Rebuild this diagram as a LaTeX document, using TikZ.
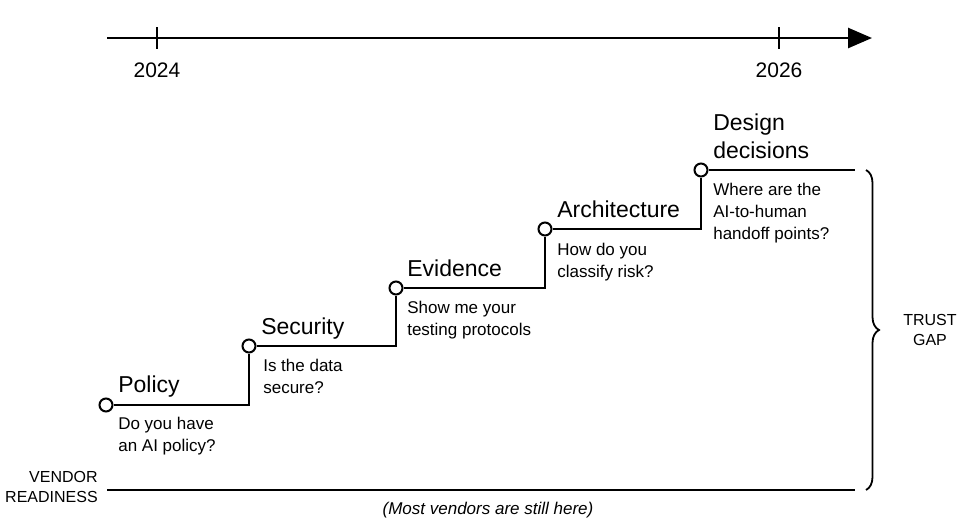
\documentclass[tikz,border=0pt]{standalone}
\usepackage{fontspec}
\setmainfont{Liberation Sans}
\usetikzlibrary{arrows.meta,decorations.pathreplacing}
\tikzset{
  milestone/.style={circle, draw, line width=2pt, fill=white, inner sep=0pt, minimum size=13pt},
  title/.style={anchor=base west, inner sep=0pt, font=\fontsize{23}{27}\selectfont},
  question/.style={anchor=north west, inner sep=0pt, align=left, font=\fontsize{17}{22}\selectfont},
  small/.style={inner sep=0pt, align=center, font=\fontsize{16}{20}\selectfont}
}
\begin{document}
\begin{tikzpicture}[x=1pt, y=-1pt, line width=2.6pt, black]
\useasboundingbox (0,0) rectangle (968,528);
% Timeline
    \coordinate (t0) at (107,38);
    \coordinate (t1) at (872,38);
    \draw[-{Triangle[length=24pt,width=20pt]}] (t0) -- (t1);
    \draw (157,27) -- (157,49);
    \draw (779,27) -- (779,49);
    \node[small, font=\fontsize{21}{24}\selectfont] (y24) at (157,70) {2024};
    \node[small, font=\fontsize{21}{24}\selectfont] (y26) at (779,70) {2026};
% Steps
    \coordinate (c1) at (249,405);
    \coordinate (c2) at (396,346);
    \coordinate (c3) at (545,288);
    \coordinate (c4) at (701,229);
    \coordinate (e5) at (855,170);
    \node[milestone] (p1) at (106,405) {};
    \node[milestone] (p2) at (249,346) {};
    \node[milestone] (p3) at (396,288) {};
    \node[milestone] (p4) at (545,229) {};
    \node[milestone] (p5) at (701,170) {};
    \draw (p1) -- (c1) -- (p2);
    \draw (p2) -- (c2) -- (p3);
    \draw (p3) -- (c3) -- (p4);
    \draw (p4) -- (c4) -- (p5);
    \draw (p5) -- (e5);
% Titles
    \node[title] (n1) at (117,392) {Policy};
    \node[title] (n2) at (260,334) {Security};
    \node[title] (n3) at (406,276) {Evidence};
    \node[title] (n4) at (556,217) {Architecture};
    \node[title] (n5a) at (712,130) {Design};
    \node[title] (n5b) at (712,158) {decisions};
% Questions
    \node[question] (q1) at (117,416) {Do you have\\an AI policy?};
    \node[question] (q2) at (262,358) {Is the data\\secure?};
    \node[question] (q3) at (406,300) {Show me your\\testing protocols};
    \node[question] (q4) at (556,242) {How do you\\classify risk?};
    \node[question] (q5) at (712,182) {Where are the\\AI-to-human\\handoff points?};
% Vendor readiness
    \coordinate (v0) at (107,490);
    \coordinate (v1) at (855,490);
    \draw (v0) -- (v1);
    \node[small, anchor=east, align=right] (vr) at (99,487) {VENDOR\\READINESS};
    \node[small, font=\fontsize{17}{20}\selectfont\itshape] (most) at (488,510) {(Most vendors are still here)};
% Trust gap
    \coordinate (b0) at (866,170);
    \coordinate (b1) at (866,490);
    \draw[line width=1.8pt, decorate, decoration={brace, amplitude=13pt}] (b0) -- (b1);
    \node[small] (gap) at (930,330) {TRUST\\GAP};
\end{tikzpicture}
\end{document}
